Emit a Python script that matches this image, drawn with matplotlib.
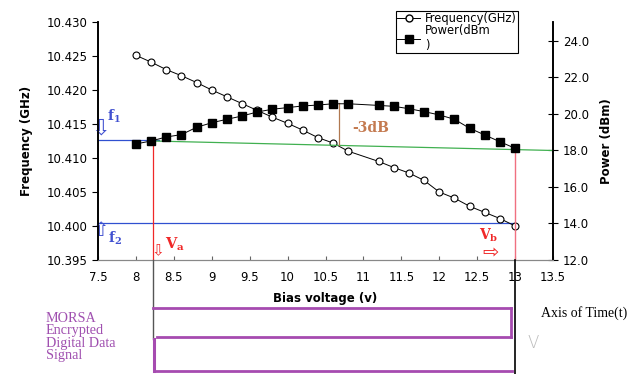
import matplotlib
matplotlib.use("Agg")
import matplotlib.pyplot as plt
from matplotlib.lines import Line2D

plt.rcParams['mathtext.fontset'] = 'dejavuserif'

# bias voltage (V) and measured values
bias = [8.0, 8.2, 8.4, 8.6, 8.8, 9.0, 9.2, 9.4, 9.6, 9.8, 10.0, 10.2, 10.4,
        10.6, 10.8, 11.2, 11.4, 11.6, 11.8, 12.0, 12.2, 12.4, 12.6, 12.8, 13.0]
freq = [10.4251, 10.4241, 10.4230, 10.4221, 10.4211, 10.4200, 10.4190, 10.4180,
        10.4170, 10.4160, 10.4151, 10.4141, 10.4130, 10.4122, 10.4110, 10.4095,
        10.4086, 10.4078, 10.4067, 10.4050, 10.4041, 10.4029, 10.4020, 10.4011,
        10.4000]
power = [18.36, 18.52, 18.74, 18.87, 19.27, 19.52, 19.71, 19.89, 20.11, 20.26,
         20.35, 20.44, 20.49, 20.56, 20.56, 20.47, 20.42, 20.29, 20.13, 19.95,
         19.71, 19.22, 18.85, 18.48, 18.12]

freq_ticks = [10.395, 10.400, 10.405, 10.410, 10.415, 10.420, 10.425, 10.430]
power_ticks = [12, 14, 16, 18, 20, 22, 24]
volt_ticks = [7.5, 8, 8.5, 9, 9.5, 10, 10.5, 11, 11.5, 12, 12.5, 13, 13.5]
volt_labels = ['7.5', '8', '8.5', '9', '9.5', '10', '10.5', '11', '11.5', '12', '12.5', '13', '13.5']

f1 = 10.4126
f2 = 10.4005
va, vb = 8.22, 13.0
p_va, p_vb, p_end = 18.52, 18.12, 18.0
v_3db, p_3db_top, p_3db_bot = 10.68, 20.60, 18.30

purple = '#A64BB0'

fig = plt.figure(figsize=(6.29, 3.74), dpi=100)
ax = fig.add_axes([98 / 629, 1 - 260 / 374, 455 / 629, 238 / 374])
ax2 = ax.twinx()

ax.plot(bias, freq, color='black', lw=0.7, marker='o', ms=5,
        mfc='white', mec='black', mew=0.8, zorder=5)
ax2.plot(bias, power, color='black', lw=0.7, marker='s', ms=5.5,
         mfc='black', mec='black', zorder=5)

ax.set_xlim(7.5, 13.5)
ax.set_ylim(10.395, 10.430)
ax2.set_ylim(12, 25.04)

ax.set_xticks(volt_ticks)
ax.set_xticklabels(volt_labels)
ax.set_yticks(freq_ticks)
ax.set_yticklabels(['%.3f' % t for t in freq_ticks])
ax2.set_yticks(power_ticks)
ax2.set_yticklabels(['%.1f' % t for t in power_ticks])

for a in (ax, ax2):
    a.spines['top'].set_visible(False)
    a.spines['bottom'].set_color('#888888')
    a.spines['left'].set_linewidth(1.2)
    a.spines['right'].set_linewidth(1.2)
ax.tick_params(axis='x', direction='in', length=3, labelsize=8.5, pad=8, color='#666666')
ax.tick_params(axis='y', direction='out', length=4, labelsize=8.5)
ax2.tick_params(axis='y', direction='inout', length=7, labelsize=8.5)

ax.set_xlabel('Bias voltage (v)', fontweight='bold', fontsize=8.5, labelpad=6)
ax.set_ylabel('Frequency (GHz)', fontweight='bold', fontsize=8.5, labelpad=10)
ax2.set_ylabel('Power (dBm)', fontweight='bold', fontsize=8.5, labelpad=8)

# reference lines
ax.plot([7.5, 8.3], [f1, f1], color='#3050D0', lw=0.9)
ax2.plot([va, 13.5], [p_va, p_end], color='#40B050', lw=0.9)
ax.plot([7.5, vb], [f2, f2], color='#3050D0', lw=0.9)
ax2.plot([va, va], [12, p_va], color='#F02828', lw=0.9)
ax2.plot([vb, vb], [12, p_vb], color='#F07080', lw=1.0)
ax2.plot([v_3db, v_3db], [p_3db_bot, p_3db_top], color='#B07850', lw=0.9)

ax.text(11.1, 10.4144, '-3dB', color='#C47A50', fontsize=10,
        fontweight='bold', family='DejaVu Serif', ha='center', va='center')
ax.text(7.62, 10.4161, r'$\mathbf{f}_\mathbf{1}$', color='#4050D0', fontsize=10, va='center')
ax.text(7.535, 10.4143, '\u21e9', color='#4050D0', fontsize=16, ha='center', va='center')
ax.text(7.63, 10.3982, r'$\mathbf{f}_\mathbf{2}$', color='#4050D0', fontsize=10, va='center')
ax.text(7.54, 10.3994, '\u21e7', color='#4050D0', fontsize=14, ha='center', va='center')
ax.text(8.38, 10.3973, r'$\mathbf{V}_\mathbf{a}$', color='#F02828', fontsize=10.5, va='center')
ax.text(8.29, 10.3963, '\u21e9', color='#F02828', fontsize=11, ha='center', va='center')
ax.text(12.53, 10.3986, r'$\mathbf{V}_\mathbf{b}$', color='#F02828', fontsize=10, va='center')
ax.text(12.68, 10.3960, '\u21e8', color='#F02828', fontsize=14, ha='center', va='center')

handles = [Line2D([], [], color='black', lw=0.7, marker='o', ms=5, mfc='white', mec='black'),
           Line2D([], [], color='black', lw=0.7, marker='s', ms=5.5, mfc='black')]
leg = fig.legend(handles, ['Frequency(GHz)', 'Power(dBm\n)'], loc='upper left',
                 bbox_to_anchor=(396 / 629, 1 - 11 / 374), fontsize=8.3,
                 frameon=True, fancybox=False, edgecolor='black', framealpha=1,
                 borderpad=0.1, labelspacing=-0.1, handlelength=2.0,
                 handletextpad=0.4, borderaxespad=0)
leg.get_frame().set_linewidth(0.8)

# digital signal strip below the chart
axt = fig.add_axes([98 / 629, 0, 455 / 629, 74 / 374])
axt.set_xlim(7.5, 13.5)
axt.set_ylim(0, 1)
axt.axis('off')
axt.plot([va, va], [0.47, 1.54], color='#555555', lw=1.0, clip_on=False)
axt.plot([vb, vb], [0.0, 1.54], color='black', lw=1.2, clip_on=False)
axt.plot([va, 12.95], [0.892, 0.892], color=purple, lw=2)
axt.plot([12.95, 12.95], [0.892, 0.5], color=purple, lw=2)
axt.plot([8.28, 12.95], [0.5, 0.5], color=purple, lw=2)
axt.plot([8.24, 8.24], [0.47, 0.04], color=purple, lw=2.2)
axt.plot([8.24, 12.96], [0.04, 0.04], color=purple, lw=2)

fig.text(46 / 629, 1 - 312 / 374, 'MORSA\nEncrypted\nDigital Data\nSignal',
         color='#A050B0', fontsize=10.2, family='Liberation Serif', va='top',
         linespacing=0.93)
fig.text(541 / 629, 1 - 313 / 374, 'Axis of Time(t)', color='black',
         fontsize=10, family='Liberation Serif', va='center')
fig.text(533 / 629, 1 - 343 / 374, 'V', color='#BBBBBB', fontsize=12,
         family='DejaVu Sans', fontweight='light', ha='center', va='center')

plt.savefig('out.png', dpi=100)
